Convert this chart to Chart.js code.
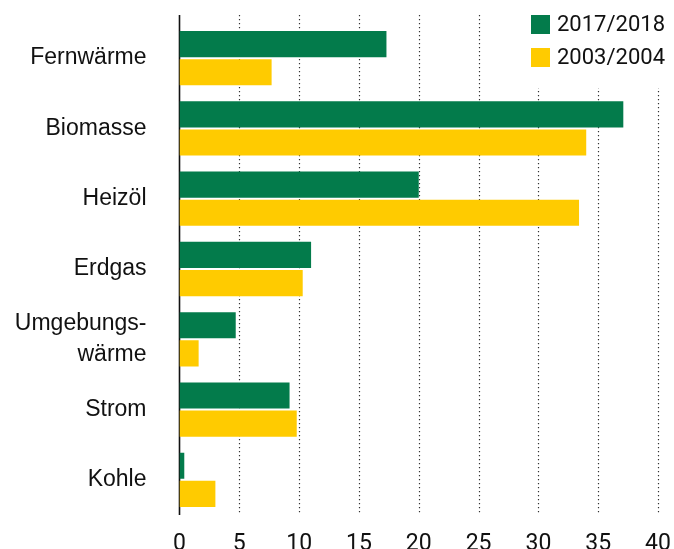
<!DOCTYPE html>
<html>
<head>
<meta charset="utf-8">
<script src="https://cdn.jsdelivr.net/npm/chart.js@4.4.0/dist/chart.umd.min.js"></script>
<style>
  html, body { margin: 0; padding: 0; background: #fff; }
  canvas { display: block; }
</style>
</head>
<body>
<canvas id="energyChart" width="674" height="549"></canvas>
<script>
// Data
const categories = ['Fernwärme', 'Biomasse', 'Heizöl', 'Erdgas', ['Umgebungs-', 'wärme'], 'Strom', 'Kohle'];
const seriesNames = ['2017/2018', '2003/2004'];
const values2017 = [17.3, 37.1, 20.0, 11.0, 4.7, 9.2, 0.4];
const values2003 = [7.7, 34.0, 33.4, 10.3, 1.6, 9.8, 3.0];
const xTicks = [0, 5, 10, 15, 20, 25, 30, 35, 40];
const seriesColors = ['#037b4b', '#ffcb00'];

// dotted grid, solid zero line, legend box
const gridAndLegend = {
  id: 'gridAndLegend',
  beforeDatasetsDraw(chart) {
    const ctx = chart.ctx;
    const x = chart.scales.x;
    const top = chart.chartArea.top - 8;
    const bottom = chart.chartArea.bottom;
    ctx.save();
    ctx.strokeStyle = '#333';
    ctx.lineWidth = 1.2;
    ctx.setLineDash([1.2, 2.8]);
    xTicks.forEach(v => {
      if (v === 0) return;
      const px = Math.round(x.getPixelForValue(v)) + 0.5;
      ctx.beginPath();
      ctx.moveTo(px, top);
      ctx.lineTo(px, bottom);
      ctx.stroke();
    });
    ctx.setLineDash([]);
    // white area behind legend
    ctx.fillStyle = '#fff';
    ctx.fillRect(505, 0, 169, 88);
    // zero line
    ctx.strokeStyle = '#111';
    ctx.lineWidth = 1.6;
    const x0 = x.getPixelForValue(0);
    ctx.beginPath();
    ctx.moveTo(x0, top);
    ctx.lineTo(x0, bottom);
    ctx.stroke();
    // legend
    ctx.font = '22px Roboto';
    ctx.textBaseline = 'middle';
    ctx.textAlign = 'left';
    seriesNames.forEach((name, i) => {
      const y = 15 + i * 33;
      ctx.fillStyle = seriesColors[i];
      ctx.fillRect(531, y, 19, 19);
      ctx.fillStyle = '#111';
      ctx.fillText(name, 557, y + 10);
    });
    ctx.restore();
  }
};

new Chart(document.getElementById('energyChart'), {
  type: 'bar',
  data: {
    labels: categories,
    datasets: [
      { label: seriesNames[0], data: values2017, backgroundColor: seriesColors[0] },
      { label: seriesNames[1], data: values2003, backgroundColor: seriesColors[1] }
    ]
  },
  options: {
    indexAxis: 'y',
    responsive: false,
    animation: false,
    categoryPercentage: 0.8,
    barPercentage: 0.93,
    layout: { padding: { top: 23, right: 16, left: 0, bottom: 0 } },
    plugins: { legend: { display: false }, tooltip: { enabled: false } },
    scales: {
      x: {
        min: 0, max: 40,
        afterBuildTicks(scale) { scale.ticks = xTicks.map(v => ({ value: v })); },
        afterFit(scale) { scale.height = 34; scale.paddingLeft = 0; scale.paddingRight = 0; },
        grid: { display: false, drawTicks: false },
        border: { display: false },
        ticks: { font: { family: 'Roboto', size: 23 }, color: '#111', padding: 15 }
      },
      y: {
        afterFit(scale) { scale.width = 179.5; scale.paddingTop = 0; scale.paddingBottom = 0; },
        grid: { display: false, drawTicks: false },
        border: { display: false },
        ticks: { font: { family: '"Liberation Sans", Arial', size: 23, lineHeight: 1.35 }, color: '#111', padding: 33 }
      }
    }
  },
  plugins: [gridAndLegend]
});
</script>
</body>
</html>
